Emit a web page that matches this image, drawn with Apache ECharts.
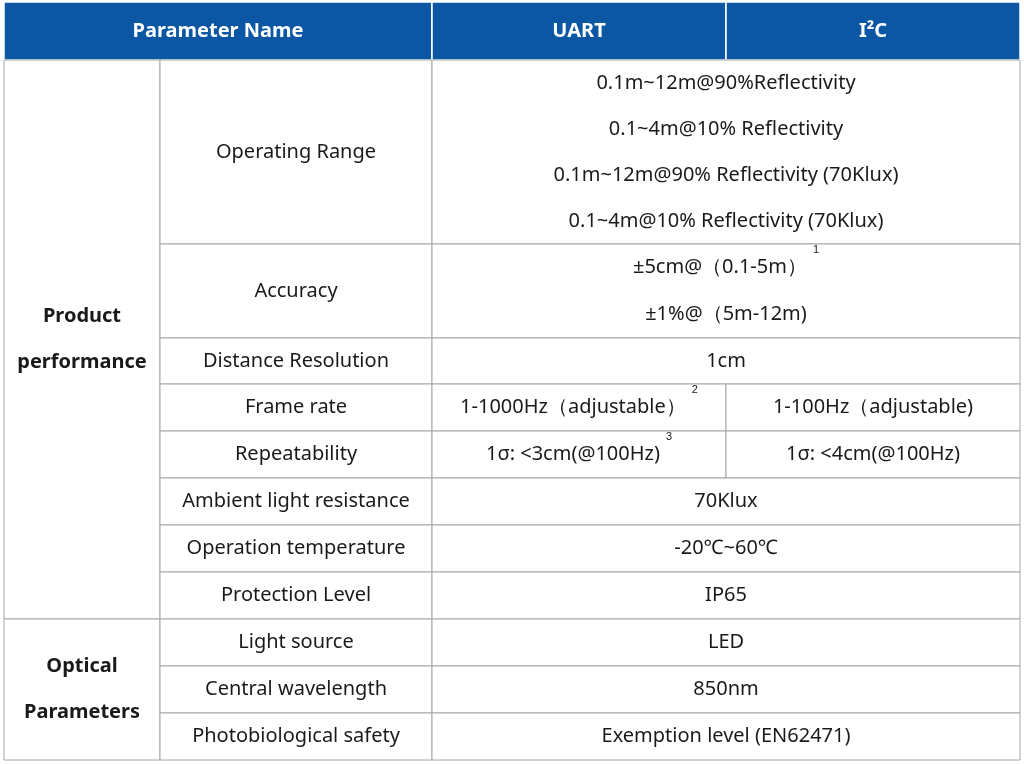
<!DOCTYPE html>
<html><head><meta charset="utf-8">
<script src="https://cdn.jsdelivr.net/npm/echarts@6/dist/echarts.min.js"></script>
<style>html,body{margin:0;padding:0;background:#fff}#c{width:1024px;height:764px}</style>
</head><body><div id="c"></div>
<script>
const headers = ['Parameter Name', 'UART', 'I²C'];
const groups = ['Product\nperformance', 'Optical\nParameters'];
const groupRowCounts = [8, 3];
const paramNames = ['Operating Range','Accuracy','Distance Resolution','Frame rate','Repeatability','Ambient light resistance','Operation temperature','Protection Level','Light source','Central wavelength','Photobiological safety'];
const uartValues = [
 '0.1m~12m@90%Reflectivity\n0.1~4m@10% Reflectivity\n0.1m~12m@90% Reflectivity (70Klux)\n0.1~4m@10% Reflectivity (70Klux)',
 '±5cm@（0.1-5m）{sup|1}\n±1%@（5m-12m)',
 '1cm',
 '1-1000Hz（adjustable）{sup|2}',
 '1σ: <3cm(@100Hz){sup|3}',
 '70Klux','-20℃~60℃','IP65','LED','850nm','Exemption level (EN62471)'];
const i2cValues = [null,null,null,'1-100Hz（adjustable)','1σ: <4cm(@100Hz)',null,null,null,null,null,null];

// layout (grid units)
const colEdges = [0, 156, 428, 722, 1016];
const headerBottom = 58;
const rowEdges = [58, 242, 336, 382, 429, 476, 523, 570, 617, 664, 711, 758];

const cells = [];
cells.push({x0:colEdges[0],x1:colEdges[2],y0:0,y1:headerBottom,t:headers[0],kind:'h'});
cells.push({x0:colEdges[2],x1:colEdges[3],y0:0,y1:headerBottom,t:headers[1],kind:'h'});
cells.push({x0:colEdges[3],x1:colEdges[4],y0:0,y1:headerBottom,t:headers[2],kind:'h'});
let r = 0;
groups.forEach((g, gi) => {
  cells.push({x0:colEdges[0],x1:colEdges[1],y0:rowEdges[r],y1:rowEdges[r+groupRowCounts[gi]],t:g,kind:'g'});
  r += groupRowCounts[gi];
});
paramNames.forEach((p, i) => {
  const y0 = rowEdges[i], y1 = rowEdges[i+1];
  cells.push({x0:colEdges[1],x1:colEdges[2],y0,y1,t:p,kind:'c'});
  if (i2cValues[i] === null) {
    cells.push({x0:colEdges[2],x1:colEdges[4],y0,y1,t:uartValues[i],kind:'c',lh: i===0?46:47});
  } else {
    cells.push({x0:colEdges[2],x1:colEdges[3],y0,y1,t:uartValues[i],kind:'c'});
    cells.push({x0:colEdges[3],x1:colEdges[4],y0,y1,t:i2cValues[i],kind:'c'});
  }
});

const chart = echarts.init(document.getElementById('c'));
chart.setOption({
  animation:false,
  grid:{left:4,top:2,width:1016,height:758},
  xAxis:{type:'value',min:0,max:1016,show:false},
  yAxis:{type:'value',min:0,max:758,inverse:true,show:false},
  series:[{
    type:'custom',
    data: cells.map((c,i)=>[c.x0,c.x1,c.y0,c.y1,i]),
    renderItem:(params, api) => {
      const c = cells[api.value(4)];
      const p0 = api.coord([c.x0, c.y0]);
      const p1 = api.coord([c.x1, c.y1]);
      const isH = c.kind === 'h';
      return {
        type:'rect',
        shape:{x:p0[0],y:p0[1],width:p1[0]-p0[0],height:p1[1]-p0[1]},
        style:{fill:isH?'#0b57a4':'#ffffff',stroke:isH?'#ffffff':'#a6a6a6',lineWidth:isH?1.5:1},
        textContent:{style:{
          text:c.t,
          fill:isH?'#ffffff':'#1a1a1a',
          font:(isH||c.kind==='g'?'bold ':'')+'20px "Noto Sans", sans-serif',
          lineHeight:c.lh || 46,
          align:'center',verticalAlign:'middle',
          rich:{sup:{fontSize:11,fill:'#1a1a1a',verticalAlign:'top',padding:[0,0,14,6]}}
        }},
        textConfig:{position:'inside'}
      };
    }
  }]
});
</script></body></html>
